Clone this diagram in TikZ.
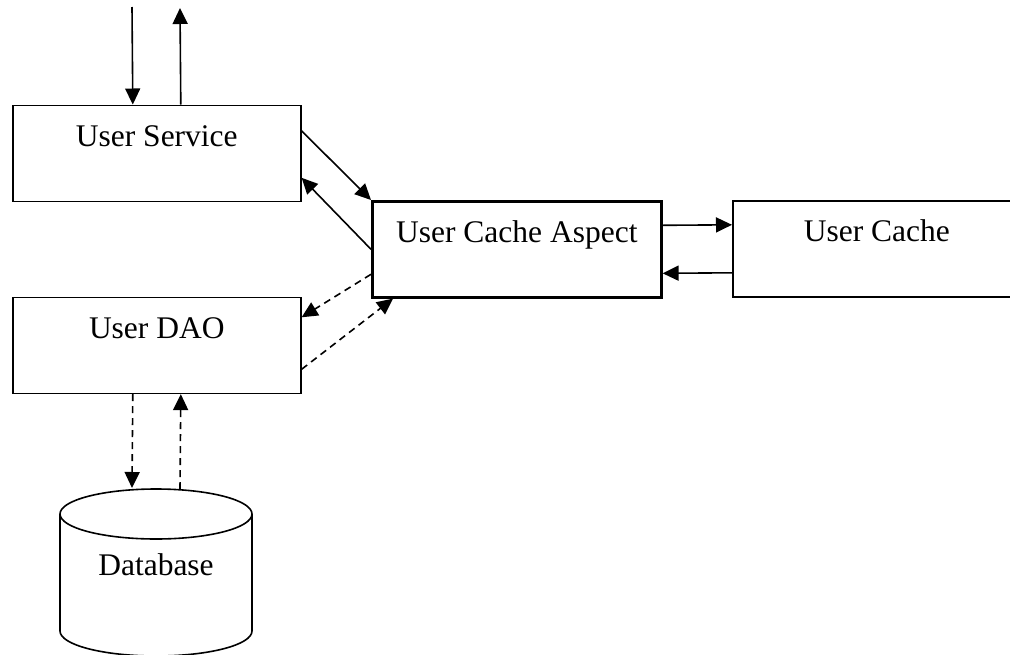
\documentclass[tikz,border=0pt]{standalone}
\usepackage{fontspec}
\setmainfont{Liberation Serif}
\usetikzlibrary{arrows.meta}
\begin{document}
\begin{tikzpicture}[x=1pt,y=-1pt,
  every node/.style={font=\fontsize{31.5}{36}\selectfont},
  box/.style={draw, line width=1.6pt, rectangle, anchor=north west,
    minimum width=288pt, inner xsep=0pt, inner ysep=0pt,
    text height=41pt, text depth=55pt},
  thickbox/.style={box, line width=2.6pt, minimum width=289pt},
  link/.style={line width=1.6pt, -{Triangle[length=16pt,width=15pt]}},
  dlink/.style={link, dash pattern=on 7pt off 5pt},
  dbline/.style={line width=1.6pt},
]
\clip (0,0) rectangle (1010,654);

% components
\node[box] (svc) at (12,104.5) {User Service};
\node[thickbox] (aspect) at (371,200) {User Cache Aspect};
\node[box] (cache) at (732,200) {User Cache};
\node[box] (dao) at (12,296.5) {User DAO};

% database cylinder
\draw[dbline] (156,514) ellipse [x radius=96, y radius=25];
\draw[dbline] (60,514) -- (60,631) (252,514) -- (252,631);
\draw[dbline] (60,631) arc[start angle=180, end angle=0, x radius=96, y radius=25];
\node[anchor=base] (db) at (156,575) {Database};
\coordinate (dbtop) at (156,489);

% external caller
\coordinate (in1) at (132,7);
\coordinate (out1) at (180,8);
\draw[link] (in1) -- ([xshift=-24pt]svc.north);
\draw[link] ([xshift=24pt]svc.north) -- (out1);

% service <-> aspect
\draw[link] ([yshift=22.5pt]svc.east) -- (aspect.north west);
\draw[link] (aspect.west) -- ([yshift=-24.5pt]svc.east);

% aspect <-> cache
\draw[link] ([yshift=24pt]aspect.east) -- ([yshift=24pt]cache.west);
\draw[link] ([yshift=-24pt]cache.west) -- ([yshift=-24pt]aspect.east);

% aspect <-> dao
\draw[dlink] ([yshift=-25pt]aspect.west) -- ([yshift=28pt]dao.east);
\draw[dlink] ([yshift=-24pt]dao.east) -- ([xshift=22pt]aspect.south west);

% dao <-> database
\draw[dlink] ([xshift=-24pt]dao.south) -- ([xshift=-24pt,yshift=1pt]dbtop);
\draw[dlink] ([xshift=24pt]dbtop) -- ([xshift=24pt]dao.south);
\end{tikzpicture}
\end{document}
